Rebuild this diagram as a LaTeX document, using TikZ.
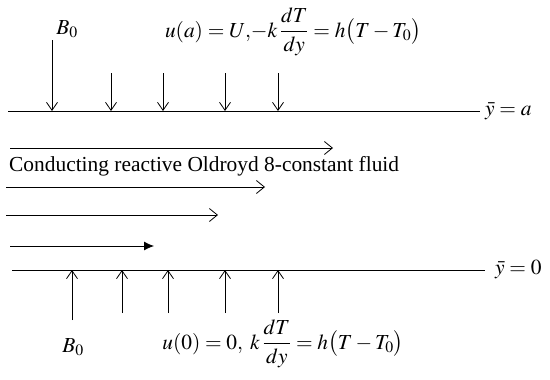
\documentclass[tikz,border=0pt]{standalone}
\usepackage{mathptmx}
\usepackage{fontspec}
\setmainfont{Liberation Serif}
\usetikzlibrary{arrows.meta}
\tikzset{
x=1pt, y=-1pt, % pixel-like coordinates, y pointing down
wall/.style={thick}, % the two plates
field/.style={thick, -{Straight Barb[length=8pt, width=11pt]}}, % magnetic field arrows
flow/.style={thick, -{Straight Barb[length=8pt, width=13pt]}}, % velocity profile arrows
every node/.style={font=\fontsize{21.4}{24}\selectfont}, % same size for all labels
}
\begin{document}
\begin{tikzpicture}
\useasboundingbox (0,0) rectangle (550,380);
% upper plate
\coordinate (tl) at (8,111);
\coordinate (tr) at (480,111);
\draw[wall] (tl) -- (tr);
\node[anchor=west, inner sep=1pt] (ya) at ([xshift=4pt]tr) {$\bar{y}=a$};
% lower plate
\coordinate (bl) at (12,270);
\coordinate (br) at (485,270);
\draw[wall] (bl) -- (br);
\node[anchor=west, inner sep=1pt] (y0) at ([xshift=9pt]br) {$\bar{y}=0$};
% magnetic field from above
\foreach \i/\x/\t in {1/52/40, 2/111/73, 3/163/73, 4/225/73, 5/278/73}{
  \coordinate (ft\i) at (\x,\t);
  \coordinate (fe\i) at (\x,111);
  \draw[field] (ft\i) -- (fe\i);
}
% magnetic field from below
\foreach \i/\x/\t in {1/72/320, 2/122/313, 3/168/313, 4/225/313, 5/278/313}{
  \coordinate (gt\i) at (\x,\t);
  \coordinate (ge\i) at (\x,270);
  \draw[field] (gt\i) -- (ge\i);
}
\node (btop) at (67,29) {$B_0$};
\node (bbot) at (73,347) {$B_0$};
% boundary conditions
\node[inner sep=1pt] (bctop) at (293,32) {$\displaystyle u(a)=U,\!-k\,\frac{dT}{dy}=h\big(T-T_0\big)$};
\node[inner sep=1pt] (bcbot) at (283,344) {$\displaystyle u(0)=0,\;k\,\frac{dT}{dy}=h\big(T-T_0\big)$};
% velocity profile
\coordinate (a1) at (10,148);  \coordinate (e1) at (333,148);
\coordinate (a2) at (6,187);   \coordinate (e2) at (265,187);
\coordinate (a3) at (6,215);   \coordinate (e3) at (218,215);
\coordinate (a4) at (10,246);  \coordinate (e4) at (154,246);
\draw[flow] (a1) -- (e1);
\draw[flow] (a2) -- (e2);
\draw[flow] (a3) -- (e3);
\draw[thick, -{Latex[length=10pt, width=9pt]}] (a4) -- (e4);
\node[anchor=west, inner sep=0pt] (fluid) at (9,166) {Conducting reactive Oldroyd 8-constant fluid};
\end{tikzpicture}
\end{document}
